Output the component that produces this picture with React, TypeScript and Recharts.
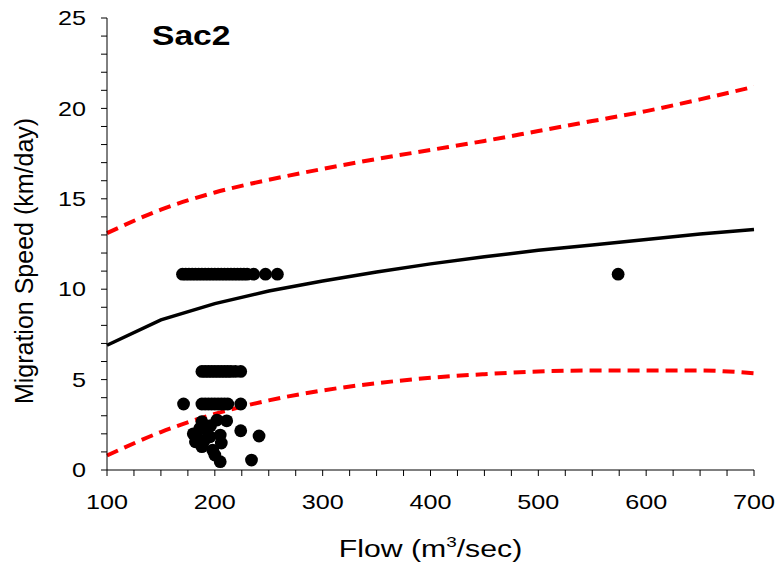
import {
  ComposedChart,
  Line,
  Scatter,
  XAxis,
  YAxis,
} from "recharts";

// model curves, sampled every 50 m3/sec
const flowGrid = [100, 150, 200, 250, 300, 350, 400, 450, 500, 550, 600, 650, 700];
const meanSpeed = [6.9, 8.3, 9.2, 9.9, 10.45, 10.95, 11.4, 11.8, 12.15, 12.45, 12.75, 13.05, 13.3];
const upperSpeed = [13.1, 14.4, 15.35, 16.05, 16.65, 17.2, 17.7, 18.2, 18.75, 19.3, 19.85, 20.5, 21.2];
const lowerSpeed = [0.8, 2.1, 3.1, 3.85, 4.4, 4.8, 5.1, 5.3, 5.45, 5.5, 5.5, 5.5, 5.35];

// observed fish
const obsFlow = [
  170, 173, 176, 179, 182, 185, 188, 191, 194, 197, 200, 203, 206, 209, 212, 215, 218,
  221, 224, 227, 230, 236, 247, 258, 574,
  188, 191, 194, 197, 200, 203, 206, 209, 212, 215, 219, 224,
  171, 188, 191, 194, 197, 200, 203, 206, 209, 212, 224,
  188, 202, 211, 224, 241, 234, 205, 200, 198, 180, 182, 188, 195.5, 205, 206, 192.5, 186,
  184, 190, 196,
];
const obsSpeed = [
  10.83, 10.83, 10.83, 10.83, 10.83, 10.83, 10.83, 10.83, 10.83, 10.83, 10.83, 10.83, 10.83,
  10.83, 10.83, 10.83, 10.83, 10.83, 10.83, 10.83, 10.83, 10.83, 10.83, 10.83, 10.83,
  5.45, 5.45, 5.45, 5.45, 5.45, 5.45, 5.45, 5.45, 5.45, 5.45, 5.45, 5.45,
  3.65, 3.65, 3.65, 3.65, 3.65, 3.65, 3.65, 3.65, 3.65, 3.65, 3.65,
  2.67, 2.76, 2.72, 2.17, 1.88, 0.55, 0.46, 0.83, 1.1, 2.0, 1.56, 1.29, 1.84, 1.93, 1.49, 2.2, 2.3,
  1.75, 1.6, 2.45,
];

const xTicks = [
  100, 125, 150, 175, 200, 225, 250, 275, 300, 325, 350, 375, 400, 425, 450, 475,
  500, 525, 550, 575, 600, 625, 650, 675, 700,
];
const yTicks = [
  0, 1, 2, 3, 4, 5, 6, 7, 8, 9, 10, 11, 12, 13, 14, 15, 16, 17, 18, 19, 20, 21, 22, 23, 24, 25,
];

const FONT = "'Liberation Sans', Arial, sans-serif";
// the original figure's text is a bit wider than plain Arial
const STRETCH = 1.26;

const meanData = flowGrid.map((x, i) => ({ x, y: meanSpeed[i] }));
const upperData = flowGrid.map((x, i) => ({ x, y: upperSpeed[i] }));
const lowerData = flowGrid.map((x, i) => ({ x, y: lowerSpeed[i] }));
const obsData = obsFlow.map((x, i) => ({ x, y: obsSpeed[i] }));

function XTick(props: any) {
  const { x, y, payload } = props;
  if (payload.value % 100 !== 0) return <g />;
  return (
    <text
      transform={`translate(${x}, ${y}) scale(${STRETCH}, 1)`}
      textAnchor="middle"
      dy="0.71em"
      fontSize={20}
      fontFamily={FONT}
      fill="#000"
    >
      {payload.value}
    </text>
  );
}

function YTick(props: any) {
  const { x, y, payload } = props;
  if (payload.value % 5 !== 0) return <g />;
  return (
    <text
      transform={`translate(${x}, ${y}) scale(${STRETCH}, 1)`}
      textAnchor="end"
      dy="0.355em"
      fontSize={20}
      fontFamily={FONT}
      fill="#000"
    >
      {payload.value}
    </text>
  );
}

export default function App() {
  return (
    <div style={{ position: "absolute", left: 0, top: 0, width: 778, height: 569, background: "#fff" }}>
      <ComposedChart
        width={778}
        height={569}
        margin={{ top: 18, right: 24, bottom: 49, left: 47 }}
      >
        <XAxis
          type="number"
          dataKey="x"
          domain={[100, 700]}
          ticks={xTicks}
          interval={0}
          tickSize={6}
          tickMargin={19}
          height={50}
          axisLine={{ stroke: "#000", strokeWidth: 1 }}
          tickLine={{ stroke: "#000" }}
          tick={<XTick />}
          label={(props: any) => {
            const vb = props.viewBox;
            const cx = vb.x + vb.width / 2;
            return (
              <text
                transform={`translate(${cx}, 557) scale(${STRETCH}, 1)`}
                textAnchor="middle"
                fontSize={24}
                fontFamily={FONT}
                fill="#000"
              >
                Flow (m
                <tspan fontSize={15} dy={-10}>3</tspan>
                <tspan dy={10}>/sec)</tspan>
              </text>
            );
          }}
        />
        <YAxis
          type="number"
          domain={[0, 25]}
          ticks={yTicks}
          interval={0}
          width={60}
          tickSize={6}
          tickMargin={15}
          axisLine={{ stroke: "#000", strokeWidth: 1 }}
          tickLine={{ stroke: "#000" }}
          tick={<YTick />}
          label={() => (
            <text
              x={33}
              y={261}
              transform="rotate(-90, 33, 261)"
              textAnchor="middle"
              fontSize={25}
              fontFamily={FONT}
              fill="#000"
            >
              Migration Speed (km/day)
            </text>
          )}
        />

        {/* upper / lower bounds */}
        <Line
          data={upperData}
          dataKey="y"
          type="monotone"
          stroke="#ff0000"
          strokeWidth={4}
          strokeDasharray="12 7"
          dot={false}
          isAnimationActive={false}
        />
        <Line
          data={lowerData}
          dataKey="y"
          type="monotone"
          stroke="#ff0000"
          strokeWidth={4}
          strokeDasharray="12 7"
          dot={false}
          isAnimationActive={false}
        />

        {/* mean curve */}
        <Line
          data={meanData}
          dataKey="y"
          type="linear"
          stroke="#000"
          strokeWidth={3.5}
          dot={false}
          isAnimationActive={false}
        />

        <Scatter
          data={obsData}
          dataKey="y"
          isAnimationActive={false}
          shape={(p: any) => <circle cx={p.cx} cy={p.cy} r={6.4} fill="#000" />}
        />
      </ComposedChart>
      <div
        style={{
          position: "absolute",
          left: 152,
          top: 20,
          fontFamily: FONT,
          fontWeight: "bold",
          fontSize: 28,
          color: "#000",
          transform: "scaleX(1.2)",
          transformOrigin: "left top",
          whiteSpace: "nowrap",
        }}
      >
        Sac2
      </div>
    </div>
  );
}
